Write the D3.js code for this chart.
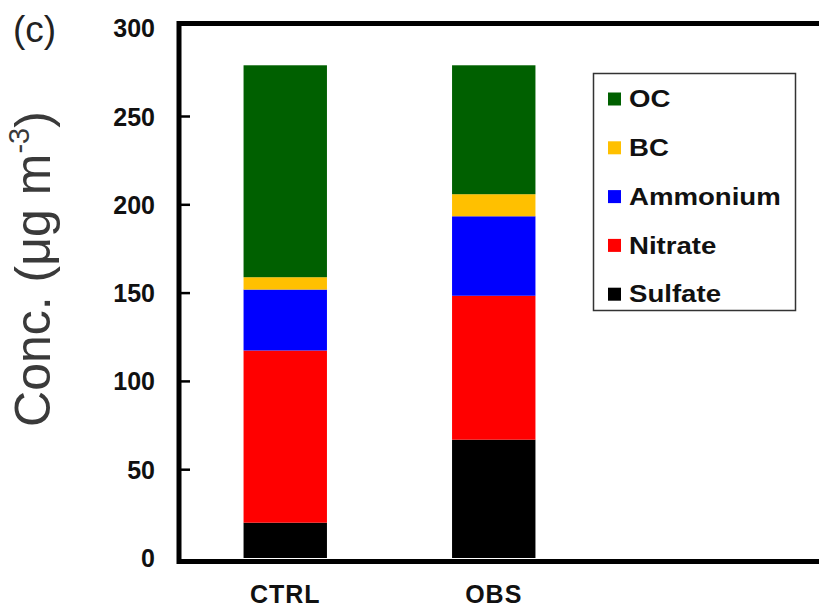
<!DOCTYPE html>
<html><head><meta charset="utf-8">
<script src="https://cdn.jsdelivr.net/npm/d3@7"></script>
<style>
html,body{margin:0;padding:0;background:#fff;}
svg{display:block;font-family:"Liberation Sans",Arial,sans-serif;}
</style></head>
<body>
<svg id="chart" width="819" height="608"></svg>
<script>
const categories = ["CTRL", "OBS"];
const sulfate  = [20, 67];
const nitrate  = [97.5, 81.5];
const ammonium = [34.5, 45];
const bc       = [7, 12.5];
const oc       = [120, 73];
const seriesNames = ["Sulfate", "Nitrate", "Ammonium", "BC", "OC"];
const seriesColors = ["#000000", "#ff0000", "#0000ff", "#ffc000", "#006000"];
const yTicks = [0, 50, 100, 150, 200, 250, 300];
const yTitle = "Conc. (μg m";
const panelLabel = "(c)";

const svg = d3.select("#chart");
const table = categories.map((c, i) => ({
  cat: c, Sulfate: sulfate[i], Nitrate: nitrate[i], Ammonium: ammonium[i], BC: bc[i], OC: oc[i]
}));
const stacked = d3.stack().keys(seriesNames)(table);
const color = d3.scaleOrdinal().domain(seriesNames).range(seriesColors);

const x = d3.scaleBand().domain(categories).range([181, 598]).paddingInner(0.6).paddingOuter(0.3);
const y = d3.scaleLinear().domain([0, 300]).range([558, 28.2]);

// bars
svg.append("g").selectAll("g").data(stacked).join("g")
  .attr("fill", d => color(d.key))
  .selectAll("rect").data(d => d).join("rect")
  .attr("x", d => x(d.data.cat))
  .attr("width", x.bandwidth())
  .attr("y", d => y(d[1]))
  .attr("height", d => y(d[0]) - y(d[1]));

// frame
const left = 179, topY = 23.5, bottomY = 561.5;
svg.append("path")
  .attr("d", `M819,${topY}H${left}V${bottomY}H819`)
  .attr("fill", "none").attr("stroke", "#000").attr("stroke-width", 5)
  .attr("stroke-linejoin", "miter");

// y ticks (inside)
svg.append("g").selectAll("line").data(yTicks.filter(v => v > 0 && v < 300)).join("line")
  .attr("x1", left).attr("x2", 190)
  .attr("y1", d => y(d)).attr("y2", d => y(d))
  .attr("stroke", "#000").attr("stroke-width", 2.5);

svg.append("g").selectAll("text").data(yTicks).join("text")
  .attr("x", 155).attr("y", d => y(d))
  .attr("dy", "0.36em")
  .attr("text-anchor", "end")
  .attr("font-size", 25).attr("font-weight", "bold").attr("fill", "#111")
  .text(d => d);

// x labels
svg.append("g").selectAll("text").data(categories).join("text")
  .attr("x", d => x(d) + x.bandwidth() / 2)
  .attr("y", 603)
  .attr("text-anchor", "middle")
  .attr("font-size", 25).attr("font-weight", "bold").attr("fill", "#111")
  .attr("letter-spacing", 1)
  .text(d => d);

// y title
const yt = svg.append("text")
  .attr("transform", "translate(50,269) rotate(-90)")
  .attr("text-anchor", "middle")
  .attr("font-size", 50).attr("fill", "#3a3a3a");
yt.append("tspan").text(yTitle);
yt.append("tspan").attr("font-size", 29).attr("dy", -21).text("-3");
yt.append("tspan").attr("dy", 21).text(")");

// panel label
svg.append("text").attr("x", 13).attr("y", 42)
  .attr("font-size", 37).attr("fill", "#222").text(panelLabel);

// legend
svg.append("rect").attr("x", 593.5).attr("y", 73.5).attr("width", 202).attr("height", 237)
  .attr("fill", "#fff").attr("stroke", "#333").attr("stroke-width", 1.5);
const legOrder = seriesNames.slice().reverse();
const lg = svg.append("g").selectAll("g").data(legOrder).join("g")
  .attr("transform", (d, i) => `translate(608,${99 + i * 48.8})`);
lg.append("rect").attr("x", 0).attr("y", -6.5).attr("width", 13).attr("height", 13)
  .attr("fill", d => color(d));
lg.append("text").attr("x", 17.5).attr("y", 0).attr("dy", "0.36em")
  .attr("font-size", 23).attr("font-weight", "bold").attr("fill", "#111")
  .attr("transform", "scale(1.2,1)")
  .text(d => d);
</script>
</body></html>
